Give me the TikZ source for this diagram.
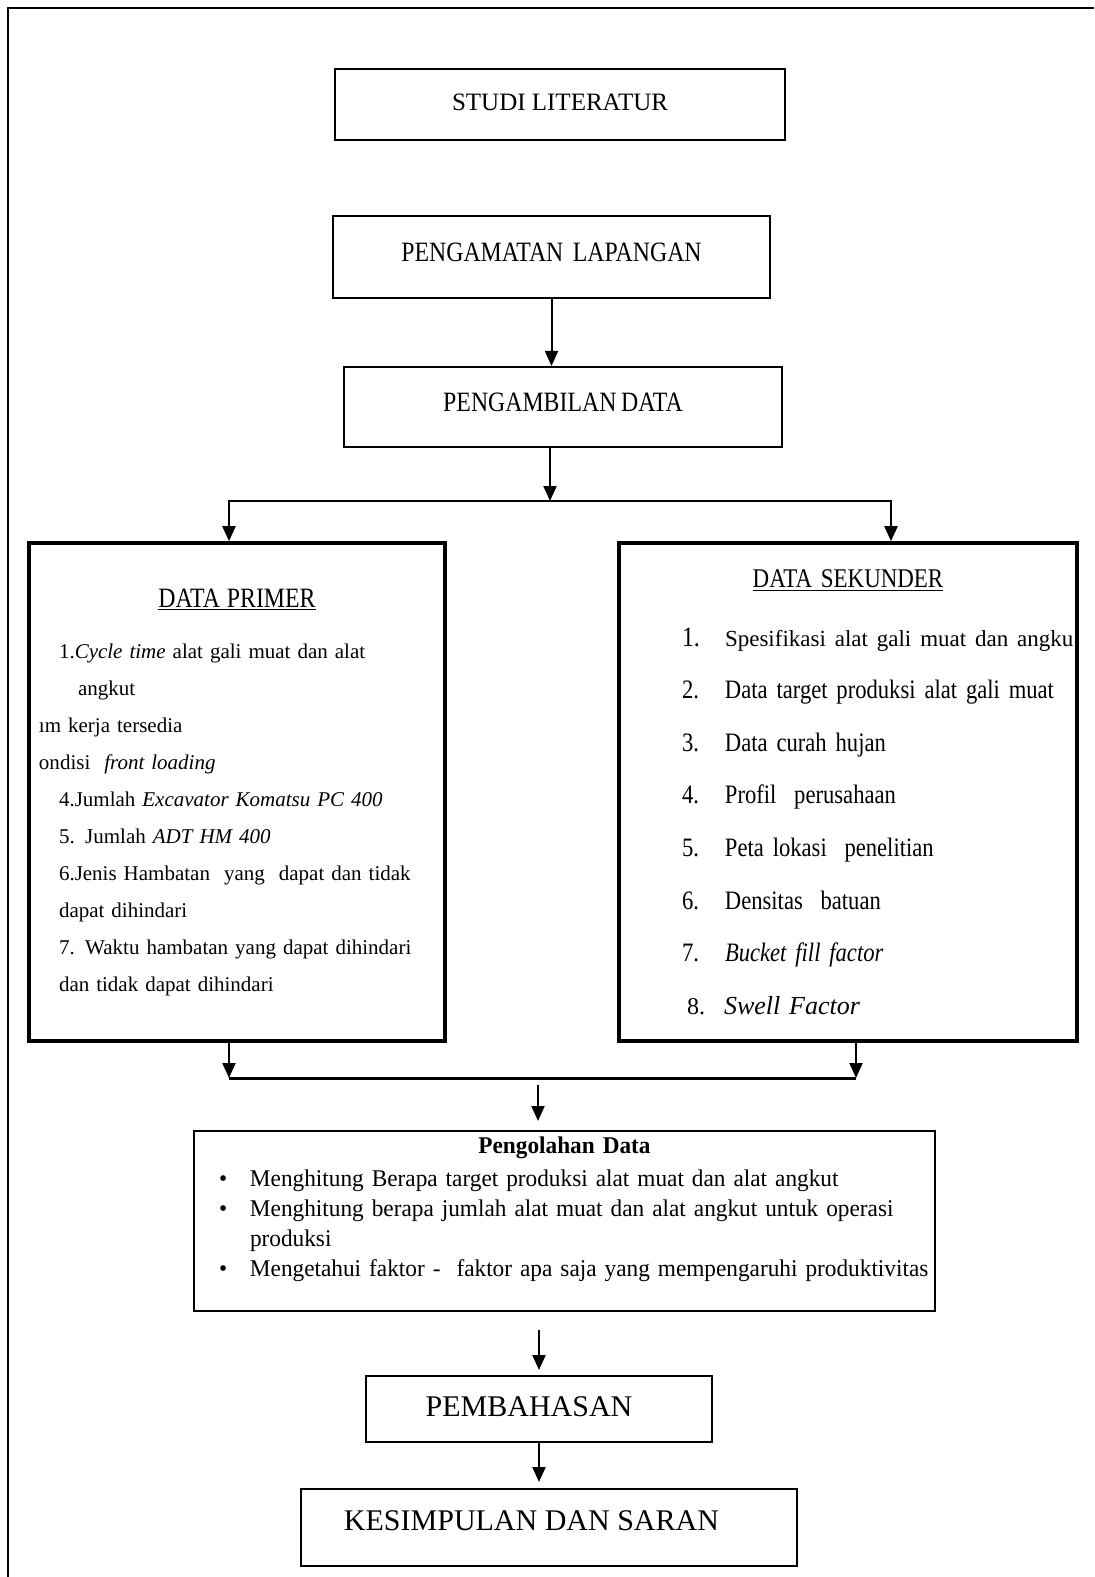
\documentclass[tikz,border=0pt]{standalone}
\usepackage{fontspec}
\setmainfont{Liberation Serif}
\newfontfamily\narrowserif[FakeStretch=0.85,WordSpace=0.8]{Liberation Serif}
\newfontfamily\olahserif[FakeStretch=0.97]{Liberation Serif}
\usetikzlibrary{arrows.meta}
\setlength{\parindent}{0pt}
\newcommand{\olahitem}[1]{\par\hangindent=15.5pt\hangafter=1\noindent\makebox[15.5pt][l]{\textbullet}#1}
\newcommand{\sekitem}[2]{\par\noindent\mbox{\makebox[21.5pt][l]{#1}#2}}
\begin{document}
\begin{tikzpicture}[x=0.5pt,y=-0.5pt,
  box/.style={draw,line width=1pt,inner sep=2pt},
  databox/.style={draw,line width=1.8pt,minimum height=249pt},
  arr/.style={-{Triangle[width=6.5pt,length=7.5pt]},line width=1pt},
  frame/.style={line width=1.4pt},
  joinline/.style={line width=1.5pt}]
\useasboundingbox (0,0) rectangle (1094,1577);
\draw[frame] (1094,8) -- (8,8) -- (8,1577);
\node[box,minimum width=225pt,minimum height=35.5pt,text depth=2.5pt,font=\fontsize{12.5}{15}\selectfont] (studi) at (560,104.5) {STUDI LITERATUR};
\node[box,minimum width=218.5pt,minimum height=41pt,text depth=5pt,font=\narrowserif\fontsize{14}{16}\selectfont] (amat) at (551.5,257) {PENGAMATAN~ LAPANGAN};
\node[box,minimum width=219pt,minimum height=40pt,text depth=5pt,font=\narrowserif\fontsize{14}{16}\selectfont] (ambil) at (563,407) {PENGAMBILAN DATA};
\node[databox,minimum width=208pt,text width=198pt,inner xsep=5pt,font=\fontsize{10.5}{18.5}\selectfont] (primer) at (237,792) {%
{\centering\narrowserif\fontsize{14}{16}\selectfont\underline{DATA PRIMER}\par}
\vspace{7pt}
\hspace*{10pt}1.\textit{Cycle time} alat gali muat dan alat\par
\hspace*{19.5pt}angkut\par
ım kerja tersedia\par
ondisi~ \textit{front loading}\par
\hspace*{10pt}4.Jumlah \textit{Excavator Komatsu PC 400}\par
\hspace*{10pt}5. Jumlah \textit{ADT HM 400}\par
\hspace*{10pt}6.Jenis Hambatan~ yang~ dapat dan tidak\par
\hspace*{10pt}dapat dihindari\par
\hspace*{10pt}7. Waktu hambatan yang dapat dihindari\par
\hspace*{10pt}dan tidak dapat dihindari\par};
\node[databox,minimum width=229pt,text width=166pt,inner xsep=31.5pt,font=\narrowserif\fontsize{13.3}{26.3}\selectfont] (sekunder) at (848,792) {%
{\centering\fontsize{13.5}{16}\selectfont\underline{DATA SEKUNDER}\par}
\vspace{3.2pt}
\sekitem{\fontsize{14}{26.3}\selectfont 1.}{\rmfamily\fontsize{11.5}{26.3}\selectfont Spesifikasi alat gali muat dan angku}
\sekitem{2.}{Data target produksi alat gali muat}
\sekitem{3.}{Data curah hujan}
\sekitem{4.}{Profil~ perusahaan}
\sekitem{5.}{Peta lokasi~ penelitian}
\sekitem{6.}{Densitas~ batuan}
\sekitem{7.}{\textit{Bucket fill factor}}
\par\noindent\mbox{\rmfamily\fontsize{12}{26.3}\selectfont\hspace*{2.5pt}\makebox[18.5pt][l]{8.}\fontsize{13}{26.3}\selectfont\textit{Swell Factor}}\par};
\node[box,minimum width=370.5pt,minimum height=90pt,text width=359.5pt,inner xsep=5.5pt,inner ysep=3pt,text depth=75.5pt,font=\olahserif\fontsize{12}{15}\selectfont] (olah) at (564.5,1221) {%
{\centering\bfseries Pengolahan Data\par}
\vspace{1.5pt}
\leftskip=7pt
\olahitem{Menghitung Berapa target produksi alat muat dan alat angkut}
\olahitem{Menghitung berapa jumlah alat muat dan alat angkut untuk operasi\linebreak produksi}
\olahitem{\mbox{Mengetahui faktor -~ faktor apa saja yang mempengaruhi produktivitas}}\par};
\node[box,minimum width=173pt,minimum height=33pt,text depth=2pt,font=\fontsize{15}{18}\selectfont] (bahas) at (539,1409) {PEMBAHASAN\hspace*{10pt}};
\node[box,minimum width=248pt,minimum height=38.5pt,text depth=7pt,font=\fontsize{15}{18}\selectfont] (simpul) at (549,1527.5) {KESIMPULAN DAN SARAN\hspace*{17.5pt}};
\coordinate (split) at (550,501);
\coordinate (brL) at (229,501);
\coordinate (brR) at (891,501);
\coordinate (jL) at (229,1078);
\coordinate (jR) at (856,1078);
\coordinate (jM) at (538,1078);
\draw[arr] (amat.south) -- (amat.south |- ambil.north);
\draw[arr] (ambil.south -| split) -- (split);
\draw[arr,line width=1.2pt] (split) -| (brL |- primer.north);
\draw[arr,line width=1.2pt] (split) -| (brR |- sekunder.north);
\draw[arr] (primer.south -| jL) -- (jL);
\draw[arr] (sekunder.south -| jR) -- (jR);
\draw[joinline] (jL) -- (jR);
\draw[arr,shorten <=3.5pt,shorten >=4.5pt] (jM) -- (jM |- olah.north);
\draw[arr,shorten <=9pt,shorten >=2.5pt] (olah.south -| bahas.north) -- (bahas.north);
\draw[arr,shorten >=3pt] (bahas.south) -- (bahas.south |- simpul.north);
\end{tikzpicture}
\end{document}
